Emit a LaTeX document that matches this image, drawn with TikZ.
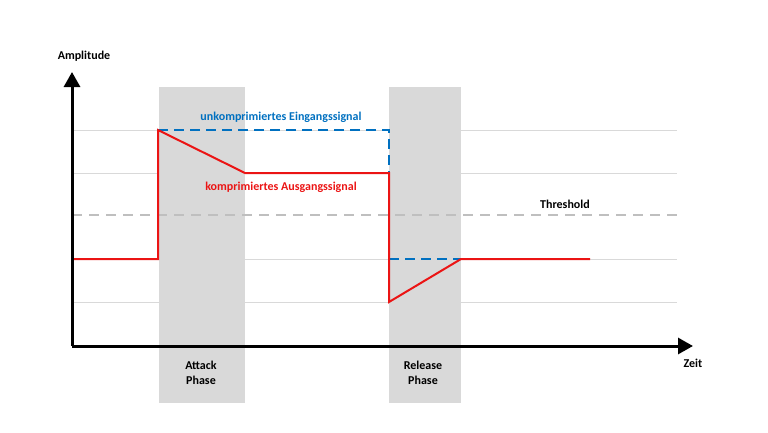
\documentclass[tikz,border=0pt]{standalone}
\usepackage{fontspec}
\setmainfont{Carlito}
\usetikzlibrary{arrows.meta}
\definecolor{sigred}{RGB}{235,20,20}
\definecolor{sigblue}{RGB}{0,112,192}
\definecolor{bandgray}{RGB}{217,217,217}
\definecolor{gridgray}{RGB}{217,217,217}
\definecolor{thrgray}{RGB}{191,191,191}
\begin{document}
\begin{tikzpicture}[x=1pt,y=-1pt,
  lbl/.style={font=\fontsize{12}{15}\selectfont\bfseries,align=center,inner sep=0pt},
  axis/.style={line width=3pt,-{Triangle[length=15pt,width=16pt]}}]

\useasboundingbox (0,0) rectangle (768,432) ;

% phases
\fill[bandgray] (159,87) rectangle (245,403) ;
\fill[bandgray] (389,87) rectangle (461,403) ;

% levels
\foreach \lev in {130,173,259,302}
  \draw[gridgray,line width=1pt] (72,\lev) -- (677,\lev) ;
\draw[thrgray,line width=1.5pt,dash pattern=on 10pt off 7pt] (72,215) -- (677,215) ;

% input signal
\draw[sigblue,line width=2pt,dash pattern=on 10pt off 6pt] (158,130) -- (389,130) -- (389,173) ;
\draw[sigblue,line width=2pt,dash pattern=on 10pt off 6pt] (389,259) -- (461,259) ;

% output signal
\draw[sigred,line width=2pt,line join=miter]
  (72,259) -- (158,259) -- (158,130) -- (245,173) -- (389,173)
  -- (389,302) -- (461,259) -- (590,259) ;

% axes
\coordinate (origin) at (72,346) ;
\draw[axis] (origin) -- (72,72) ;
\draw[axis] (origin) -- (693,346) ;

\node[lbl] (amp) at (84,56) {Amplitude} ;
\node[lbl] (zeit) at (693,363) {Zeit} ;
\node[lbl,text=sigblue] (ein) at (281,117) {unkomprimiertes Eingangssignal} ;
\node[lbl,text=sigred] (aus) at (281,187) {komprimiertes Ausgangssignal} ;
\node[lbl] (thr) at (565,204) {Threshold} ;
\node[lbl] (attack) at (201,373) {Attack\\Phase} ;
\node[lbl] (release) at (423,373) {Release\\Phase} ;

\end{tikzpicture}
\end{document}
